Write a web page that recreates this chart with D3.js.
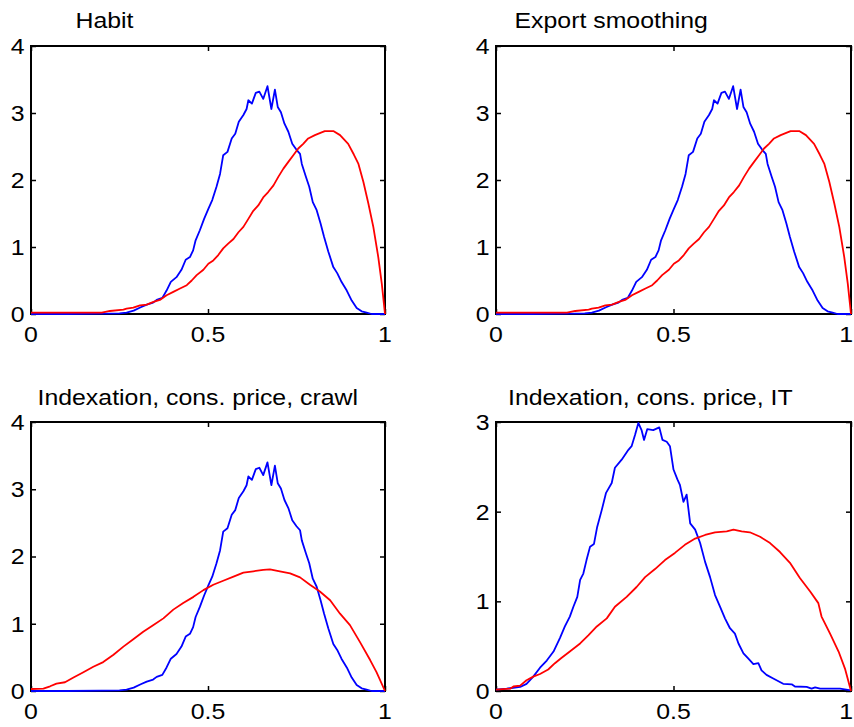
<!DOCTYPE html>
<html>
<head>
<meta charset="utf-8">
<script src="https://cdn.jsdelivr.net/npm/d3@7"></script>
<style>html,body{margin:0;padding:0;background:#fff}</style>
</head>
<body>
<svg id="fig" width="854" height="727"></svg>
<script>
// Panel titles and tick labels
const titles = ["Habit", "Export smoothing", "Indexation, cons. price, crawl", "Indexation, cons. price, IT"];
const xTicks = [0, 0.5, 1];
const xTickLabels = ["0", "0.5", "1"];
const yTicks4 = [0, 1, 2, 3, 4];
const yTicks3 = [0, 1, 2, 3];

// Blue density (same in the first three panels)
const blueAX = [0, 0.1, 0.2, 0.25, 0.27, 0.29, 0.31, 0.327, 0.345, 0.355, 0.371, 0.383, 0.395, 0.411, 0.425, 0.437, 0.449, 0.458, 0.465, 0.477, 0.489, 0.501, 0.512, 0.524, 0.534, 0.543, 0.555, 0.567, 0.577, 0.587, 0.6, 0.609, 0.614, 0.624, 0.635, 0.645, 0.656, 0.668, 0.679, 0.689, 0.697, 0.706, 0.716, 0.727, 0.738, 0.75, 0.76, 0.765, 0.777, 0.786, 0.796, 0.807, 0.818, 0.828, 0.84, 0.854, 0.865, 0.877, 0.892, 0.906, 0.92, 0.934, 0.948, 0.962, 1.0];
const blueAY = [0, 0, 0.005, 0.01, 0.02, 0.05, 0.1, 0.14, 0.17, 0.21, 0.24, 0.35, 0.48, 0.55, 0.66, 0.81, 0.85, 0.95, 1.1, 1.25, 1.42, 1.57, 1.70, 1.90, 2.09, 2.37, 2.42, 2.62, 2.69, 2.87, 2.97, 3.06, 3.19, 3.14, 3.30, 3.32, 3.21, 3.40, 3.06, 3.35, 3.09, 3.01, 2.84, 2.72, 2.54, 2.45, 2.39, 2.24, 2.04, 1.90, 1.67, 1.55, 1.35, 1.15, 0.93, 0.70, 0.61, 0.48, 0.35, 0.20, 0.09, 0.04, 0.02, 0, 0];

// Red density for "Habit" and "Export smoothing"
const redAX = [0, 0.1, 0.2, 0.223, 0.261, 0.27, 0.289, 0.308, 0.327, 0.346, 0.364, 0.383, 0.402, 0.421, 0.44, 0.454, 0.468, 0.487, 0.501, 0.515, 0.529, 0.543, 0.557, 0.572, 0.586, 0.6, 0.614, 0.628, 0.642, 0.656, 0.67, 0.685, 0.699, 0.713, 0.727, 0.741, 0.755, 0.769, 0.783, 0.802, 0.821, 0.83, 0.854, 0.873, 0.896, 0.912, 0.925, 0.939, 0.953, 0.967, 0.981, 0.991, 1.0];
const redAY = [0.02, 0.02, 0.02, 0.045, 0.065, 0.08, 0.095, 0.13, 0.14, 0.18, 0.21, 0.28, 0.33, 0.38, 0.43, 0.50, 0.58, 0.66, 0.75, 0.80, 0.88, 0.98, 1.05, 1.12, 1.22, 1.30, 1.42, 1.54, 1.62, 1.74, 1.82, 1.92, 2.05, 2.17, 2.27, 2.37, 2.47, 2.54, 2.62, 2.67, 2.71, 2.73, 2.73, 2.67, 2.54, 2.38, 2.24, 1.97, 1.65, 1.30, 0.85, 0.45, 0];

// Red density for "Indexation, cons. price, crawl"
const redCX = [0, 0.035, 0.054, 0.072, 0.096, 0.12, 0.148, 0.176, 0.204, 0.233, 0.261, 0.289, 0.317, 0.346, 0.374, 0.402, 0.43, 0.459, 0.487, 0.515, 0.543, 0.572, 0.6, 0.628, 0.656, 0.675, 0.703, 0.732, 0.76, 0.788, 0.816, 0.845, 0.873, 0.901, 0.929, 0.958, 0.976, 1.0];
const redCY = [0.03, 0.035, 0.07, 0.11, 0.13, 0.2, 0.28, 0.36, 0.43, 0.54, 0.66, 0.77, 0.88, 0.98, 1.08, 1.21, 1.31, 1.40, 1.50, 1.58, 1.64, 1.70, 1.76, 1.78, 1.80, 1.81, 1.78, 1.75, 1.69, 1.58, 1.48, 1.35, 1.15, 0.98, 0.73, 0.46, 0.28, 0];

// Densities for "Indexation, cons. price, IT"
const blueDX = [0, 0.03, 0.068, 0.086, 0.105, 0.124, 0.143, 0.162, 0.18, 0.194, 0.208, 0.218, 0.229, 0.237, 0.246, 0.255, 0.265, 0.276, 0.285, 0.298, 0.31, 0.326, 0.335, 0.354, 0.373, 0.382, 0.392, 0.401, 0.41, 0.417, 0.426, 0.443, 0.46, 0.469, 0.481, 0.49, 0.5, 0.511, 0.518, 0.528, 0.537, 0.547, 0.561, 0.575, 0.589, 0.603, 0.617, 0.631, 0.645, 0.659, 0.673, 0.683, 0.697, 0.711, 0.725, 0.739, 0.748, 0.762, 0.781, 0.809, 0.833, 0.842, 0.875, 0.889, 0.899, 0.913, 0.969, 1.0];
const blueDY = [0.015, 0.026, 0.045, 0.08, 0.16, 0.26, 0.34, 0.44, 0.59, 0.72, 0.83, 0.94, 1.05, 1.24, 1.31, 1.46, 1.61, 1.64, 1.83, 2.02, 2.21, 2.32, 2.49, 2.58, 2.69, 2.73, 2.86, 2.99, 2.91, 2.80, 2.92, 2.91, 2.94, 2.80, 2.78, 2.73, 2.47, 2.36, 2.30, 2.11, 2.19, 1.87, 1.80, 1.65, 1.44, 1.27, 1.07, 0.94, 0.81, 0.70, 0.64, 0.53, 0.42, 0.36, 0.30, 0.31, 0.23, 0.18, 0.14, 0.08, 0.075, 0.05, 0.045, 0.026, 0.04, 0.026, 0.026, 0.007];
const redDX = [0, 0.04, 0.049, 0.068, 0.086, 0.105, 0.124, 0.147, 0.166, 0.185, 0.208, 0.237, 0.26, 0.284, 0.312, 0.335, 0.368, 0.396, 0.42, 0.448, 0.476, 0.504, 0.532, 0.561, 0.589, 0.617, 0.65, 0.669, 0.692, 0.715, 0.744, 0.772, 0.8, 0.828, 0.856, 0.885, 0.908, 0.917, 0.941, 0.965, 0.983, 1.0];
const redDY = [0.015, 0.026, 0.05, 0.06, 0.12, 0.16, 0.19, 0.24, 0.31, 0.37, 0.44, 0.53, 0.62, 0.72, 0.81, 0.94, 1.05, 1.16, 1.27, 1.36, 1.46, 1.54, 1.63, 1.70, 1.74, 1.77, 1.78, 1.80, 1.78, 1.77, 1.72, 1.65, 1.55, 1.43, 1.26, 1.11, 0.98, 0.83, 0.64, 0.44, 0.25, 0];

const zip = (xs, ys) => xs.map((v, i) => [v, ys[i]]);

const W = 854, H = 727;
const FONT = "'Liberation Sans', Arial, Helvetica, sans-serif";
const FS = 22;      // font size in px
const SX = 1.13;    // horizontal stretch of the lettering
const TICK = 5;     // inward tick length

const panels = [
  { title: titles[0], box: [31, 46, 385, 314],  titleAt: [75.5, 28],  yTicks: yTicks4,
    lines: [[zip(blueAX, blueAY), "#0000ff"], [zip(redAX, redAY), "#ff0000"]] },
  { title: titles[1], box: [496, 46, 851, 314], titleAt: [514.5, 28], yTicks: yTicks4,
    lines: [[zip(blueAX, blueAY), "#0000ff"], [zip(redAX, redAY), "#ff0000"]] },
  { title: titles[2], box: [31, 422, 385, 691], titleAt: [37.5, 405], yTicks: yTicks4,
    lines: [[zip(blueAX, blueAY), "#0000ff"], [zip(redCX, redCY), "#ff0000"]] },
  { title: titles[3], box: [496, 422, 851, 691], titleAt: [508, 405], yTicks: yTicks3,
    lines: [[zip(blueDX, blueDY), "#0000ff"], [zip(redDX, redDY), "#ff0000"]] }
];

const svg = d3.select("#fig");
svg.append("rect").attr("width", W).attr("height", H).attr("fill", "#fff");

function label(g, text, x, y, anchor, dy) {
  const t = g.append("text")
    .attr("transform", `translate(${x},${y}) scale(${SX},1)`)
    .attr("text-anchor", anchor)
    .attr("dy", dy || null)
    .attr("font-family", FONT)
    .attr("font-size", FS)
    .attr("fill", "#000")
    .text(text);
  // keep labels inside the figure's right edge
  const bb = t.node().getBBox();
  const right = x + (bb.x + bb.width) * SX;
  if (right > W - 1) {
    t.attr("transform", `translate(${x - (right - (W - 1))},${y}) scale(${SX},1)`);
  }
  return t;
}

panels.forEach(p => {
  const [x0, y0, x1, y1] = p.box;
  const yMax = d3.max(p.yTicks);
  const x = d3.scaleLinear().domain([0, 1]).range([x0, x1]);
  const y = d3.scaleLinear().domain([0, yMax]).range([y1, y0]);
  const g = svg.append("g");

  // inward ticks on all four sides
  const tickStyle = sel => {
    sel.select(".domain").remove();
    sel.selectAll(".tick line").attr("stroke", "#000").attr("stroke-width", 1.5);
  };
  g.append("g").attr("transform", `translate(0,${y1})`)
    .call(d3.axisBottom(x).tickValues(xTicks).tickSizeInner(-TICK).tickSizeOuter(0).tickFormat(""))
    .call(tickStyle);
  g.append("g").attr("transform", `translate(0,${y0})`)
    .call(d3.axisTop(x).tickValues(xTicks).tickSizeInner(-TICK).tickSizeOuter(0).tickFormat(""))
    .call(tickStyle);
  g.append("g").attr("transform", `translate(${x0},0)`)
    .call(d3.axisLeft(y).tickValues(p.yTicks).tickSizeInner(-TICK).tickSizeOuter(0).tickFormat(""))
    .call(tickStyle);
  g.append("g").attr("transform", `translate(${x1},0)`)
    .call(d3.axisRight(y).tickValues(p.yTicks).tickSizeInner(-TICK).tickSizeOuter(0).tickFormat(""))
    .call(tickStyle);

  // axes box
  g.append("rect")
    .attr("x", x0).attr("y", y0)
    .attr("width", x1 - x0).attr("height", y1 - y0)
    .attr("fill", "none").attr("stroke", "#000").attr("stroke-width", 2);

  // density curves
  const line = d3.line().x(d => x(d[0])).y(d => y(d[1]));
  p.lines.forEach(([pts, color]) => {
    g.append("path").datum(pts)
      .attr("d", line)
      .attr("fill", "none")
      .attr("stroke", color)
      .attr("stroke-width", 1.8)
      .attr("stroke-linejoin", "round");
  });

  // tick labels
  xTicks.forEach((v, i) => label(g, xTickLabels[i], x(v), y1 + 27.5, "middle"));
  p.yTicks.forEach(v => label(g, String(v), x0 - 6.3, y(v), "end", "0.36em"));

  // title
  label(g, p.title, p.titleAt[0], p.titleAt[1], "start");
});
</script>
</body>
</html>
